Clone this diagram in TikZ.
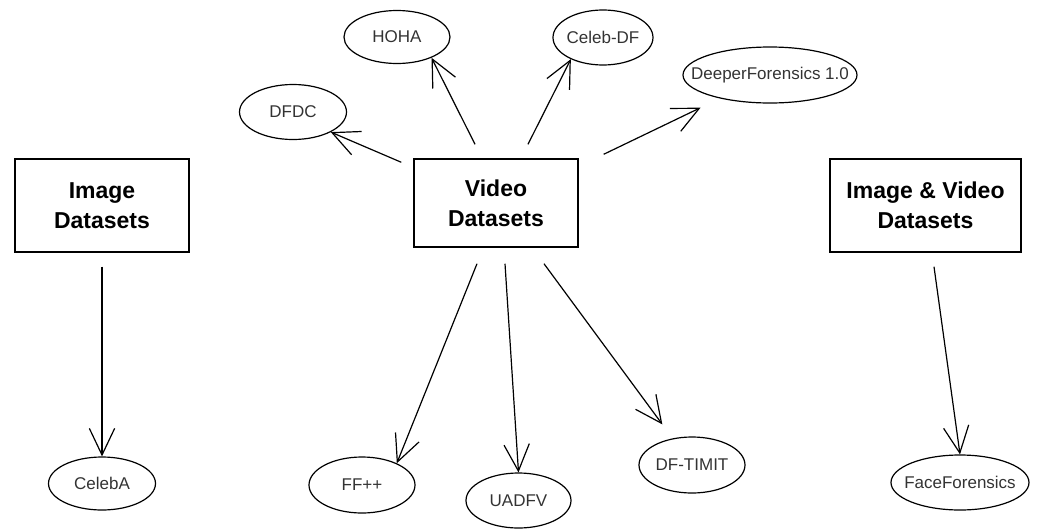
\documentclass[tikz,border=0pt]{standalone}
\usepackage{fontspec}
\setmainfont{Liberation Sans}
\usetikzlibrary{shapes.geometric,arrows.meta}
\newcommand{\dset}[1]{\makebox[0pt]{#1}}
\begin{document}
\begin{tikzpicture}[x=0.75pt,y=-0.75pt,
    group/.style={draw,line width=1.1pt,inner sep=0pt,align=center,
      font=\fontsize{17.25}{22.5}\selectfont\bfseries},
    dataset/.style={draw,ellipse,line width=0.9pt,inner sep=0pt,text=black!80,
      font=\fontsize{12.75}{15}\selectfont},
    link/.style={line width=0.9pt,-{Straight Barb[length=20pt,width=19pt]}}]
  \useasboundingbox (0,0) rectangle (1043,529);
  \node[group,minimum width=130.5pt,minimum height=69.75pt] (img) at (102,205.5) {Image\\Datasets};
  \node[group,minimum width=123pt,minimum height=66pt] (video) at (496,203) {Video\\Datasets};
  \node[group,minimum width=143.25pt,minimum height=69.75pt] (imgvid) at (925.5,205.5) {Image \& Video\\Datasets};
  \node[dataset,minimum width=79.5pt,minimum height=39.75pt] (hoha) at (397,37) {\dset{HOHA}};
  \node[dataset,minimum width=75pt,minimum height=41.25pt] (celebdf) at (603,37.5) {\dset{Celeb-DF}};
  \node[dataset,minimum width=80.25pt,minimum height=41.25pt] (dfdc) at (293,112) {\dset{DFDC}};
  \node[dataset,minimum width=130.5pt,minimum height=42pt] (deeper) at (770,75) {\dset{DeeperForensics 1.0}};
  \node[dataset,minimum width=80.25pt,minimum height=39.75pt] (celeba) at (102,483.5) {\dset{CelebA}};
  \node[dataset,minimum width=79.5pt,minimum height=42pt] (ffpp) at (362,485) {\dset{FF++}};
  \node[dataset,minimum width=78.75pt,minimum height=41.25pt] (uadfv) at (518.5,500.5) {\dset{UADFV}};
  \node[dataset,minimum width=79.5pt,minimum height=42pt] (dftimit) at (692,465) {\dset{DF-TIMIT}};
  \node[dataset,minimum width=103.5pt,minimum height=41.25pt] (face) at (960,482.5) {\dset{FaceForensics}};
  \draw[link] ([shift={(0,14)}]img.south) -- (celeba.north);
  \draw[link] ([shift={(-12,4)}]video.north west) -- (dfdc.-28);
  \draw[link] ([shift={(-21,-14)}]video.north) -- (hoha.-31);
  \draw[link] ([shift={(32,-14)}]video.north) -- (celebdf.214);
  \draw[link,shorten >=16pt] ([shift={(25,-4)}]video.north east) -- (deeper.205);
  \draw[link] ([shift={(-19,16)}]video.south) -- (ffpp.32);
  \draw[link] ([shift={(9,16)}]video.south) -- (uadfv.north);
  \draw[link,shorten >=13pt] ([shift={(48,16)}]video.south) -- (dftimit.126);
  \draw[link] ([shift={(8.5,14)}]imgvid.south) -- (face.north);
\end{tikzpicture}
\end{document}
